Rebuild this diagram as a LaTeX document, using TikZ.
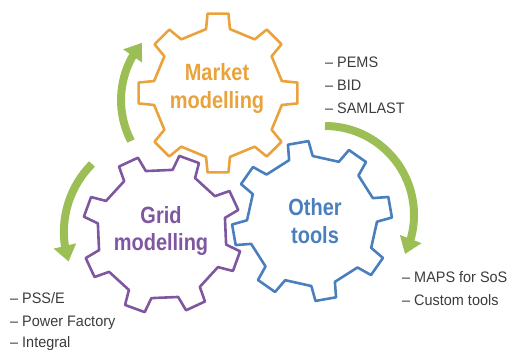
\documentclass[tikz,border=0pt]{standalone}
\usepackage{fontspec}
\setmainfont{Liberation Sans}
\newfontfamily\labelfont[FakeStretch=0.85]{Liberation Sans}
\newfontfamily\listfont[FakeStretch=0.95]{Liberation Sans}
\usetikzlibrary{arrows.meta,bending}
\definecolor{gorange}{HTML}{EAA23C}
\definecolor{gpurple}{HTML}{7E57A0}
\definecolor{gblue}{HTML}{4A7FBF}
\definecolor{ggreen}{HTML}{9BBE55}
\definecolor{listgray}{HTML}{3C3C3C}
\newcommand\drawgear[4]{%
  \draw[gearline,draw=#4,shift={(#1,#2)}] ({#3-10.6}:65)
    \foreach \k in {0,...,7}{ -- ({#3+45*\k-10.6}:65) -- ({#3+45*\k-7.5}:80)
      -- ({#3+45*\k+7.5}:80) -- ({#3+45*\k+10.6}:65)} -- cycle;}
\begin{document}
\begin{tikzpicture}[x=1pt,y=-1pt,
  gearline/.style={line width=2.6pt,line join=round},
  gearlabel/.style={font=\labelfont\bfseries\fontsize{23.5}{28}\selectfont,anchor=base,inner sep=0pt},
  listitem/.style={font=\listfont\fontsize{15.2}{18}\selectfont,text=listgray,anchor=base west,inner sep=0pt},
  greenarrow/.style={draw=ggreen,line width=8pt,-{Triangle[width=22pt,length=16pt]}}]
\useasboundingbox (0,0) rectangle (511,349);
% gears
\drawgear{218}{93}{0}{gorange}
\drawgear{162}{234}{20}{gpurple}
\drawgear{312}{221}{35}{gblue}
% labels
\node[gearlabel,text=gorange] (market1) at (217,80) {Market};
\node[gearlabel,text=gorange] (market2) at (217,108) {modelling};
\node[gearlabel,text=gpurple] (grid1) at (161,223) {Grid};
\node[gearlabel,text=gpurple] (grid2) at (161,250) {modelling};
\node[gearlabel,text=gblue] (other1) at (315,215) {Other};
\node[gearlabel,text=gblue] (other2) at (315,243) {tools};
% lists
\node[listitem] (pems) at (325,67) {– PEMS};
\node[listitem] (bid) at (325,90) {– BID};
\node[listitem] (samlast) at (325,113) {– SAMLAST};
\node[listitem] (maps) at (402,282) {– MAPS for SoS};
\node[listitem] (custom) at (402,305) {– Custom tools};
\node[listitem] (pss) at (10,303) {– PSS/E};
\node[listitem] (pf) at (10,326) {– Power Factory};
\node[listitem] (integral) at (10,347.5) {– Integral};
% arrows
\coordinate (a1s) at (131,141);
\coordinate (a2s) at (325,126);
\coordinate (a3s) at (92,164);
\draw[greenarrow] (a1s) arc[start angle=152.6,end angle=220,radius=89];
\draw[greenarrow] (a2s) arc[start angle=-90,end angle=26,radius=89];
\draw[greenarrow] (a3s) arc[start angle=225,end angle=162,radius=96];
\end{tikzpicture}
\end{document}
